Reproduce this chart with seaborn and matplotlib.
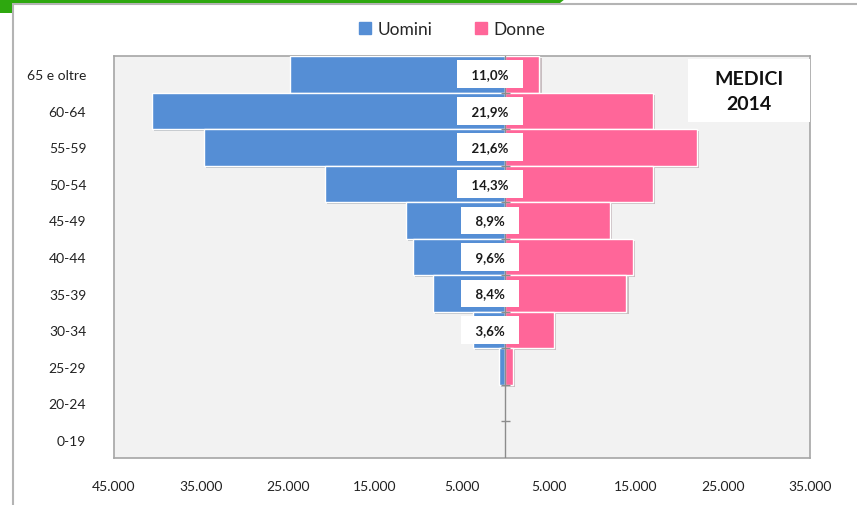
import numpy as np
import pandas as pd
import matplotlib
matplotlib.use("Agg")
import matplotlib.pyplot as plt
import matplotlib.patheffects as pe
from matplotlib.patches import Rectangle, Polygon
from matplotlib.lines import Line2D
import seaborn as sns

# data
age_groups = ["65 e oltre", "60-64", "55-59", "50-54", "45-49", "40-44",
              "35-39", "30-34", "25-29", "20-24", "0-19"]
uomini = [24800, 40600, 34700, 20800, 11400, 10600, 8300, 3700, 700, 0, 0]
donne = [3900, 17000, 22000, 16900, 12000, 14600, 13900, 5600, 900, 0, 0]
pct_labels = ["11,0%", "21,9%", "21,6%", "14,3%", "8,9%", "9,6%", "8,4%", "3,6%"]
x_ticks = list(range(-45000, 35001, 10000))

blue = "#558ED5"
pink = "#FF6699"

df = pd.DataFrame({"Età": age_groups,
                   "Uomini": [-v for v in uomini],
                   "Donne": donne})

sns.set_style("white")
plt.rcParams["font.family"] = ["Lato", "DejaVu Sans"]

fig = plt.figure(figsize=(8.57, 5.06), dpi=100)
ax = fig.add_axes([114 / 857, 47 / 506, 696 / 857, 402 / 506])
ax.set_facecolor("#F2F2F2")

shadow = [pe.SimplePatchShadow(offset=(1.5, -1.5), alpha=0.25), pe.Normal()]
sns.barplot(data=df, x="Uomini", y="Età", order=age_groups, color=blue,
            width=1.0, edgecolor="white", linewidth=1, saturation=1, ax=ax, zorder=3)
sns.barplot(data=df, x="Donne", y="Età", order=age_groups, color=pink,
            width=1.0, edgecolor="white", linewidth=1, saturation=1, ax=ax, zorder=3)
for p in ax.patches:
    if p.get_width() != 0:
        p.set_path_effects(shadow)
    else:
        p.set_visible(False)

# zero axis with boundary ticks
ax.axvline(0, color="#8C8C8C", lw=1, zorder=4)
bounds = np.arange(len(age_groups) - 1) + 0.5
ax.hlines(bounds, -550, 550, color="#8C8C8C", lw=1, zorder=4)

# percentage labels
for i, lab in enumerate(pct_labels):
    ax.text(-1800, i, "  " + lab + "  ", ha="center", va="center",
            fontsize=9.5, fontweight="bold", color="#1A1A1A", zorder=5,
            bbox=dict(boxstyle="square,pad=0.6", fc="white", ec="none"))

# title box
ax.add_patch(Rectangle((574 / 696, 336 / 402), 122 / 696, 63 / 402,
                       transform=ax.transAxes, fc="white", ec="none", zorder=5))
ax.text(635 / 696, 367 / 402, "MEDICI\n2014", transform=ax.transAxes,
        ha="center", va="center", fontsize=14, fontweight="bold",
        color="#111111", linespacing=1.6, zorder=6)

ax.set_xlim(-45000, 35000)
ax.set_ylim(len(age_groups) - 0.5, -0.5)
ax.set_xticks(x_ticks)
ax.set_xticklabels([f"{abs(v):,}".replace(",", ".") for v in x_ticks],
                   fontsize=10, color="#222222")
ax.tick_params(axis="x", length=4, width=1, color="#8C8C8C", direction="out", pad=12)
ax.tick_params(axis="y", length=0, labelsize=10, labelcolor="#222222", pad=20)
ax.set_xlabel("")
ax.set_ylabel("")
for s in ax.spines.values():
    s.set_visible(True)
    s.set_color("#A6A6A6")
    s.set_linewidth(1.2)

# legend
handles = [Line2D([], [], marker="s", ls="", color=blue, markersize=8, label="Uomini"),
           Line2D([], [], marker="s", ls="", color=pink, markersize=8, label="Donne")]
fig.legend(handles=handles, loc="center", bbox_to_anchor=(0.527, 1 - 30 / 506),
           ncol=2, frameon=False, fontsize=12.5, handletextpad=0.3,
           columnspacing=2.4, handlelength=0.8)

# outer chart frame and green header strip
fig.patches.append(Rectangle((13 / 857, -0.05), 1.0, 1 - 5 / 506 + 0.05,
                             transform=fig.transFigure, fc="none",
                             ec="#B4B4B4", lw=1.5, zorder=0))
fig.patches.append(Polygon([(0, 1), (565 / 857, 1), (560 / 857, 1 - 4 / 506),
                            (12 / 857, 1 - 4 / 506), (12 / 857, 1 - 14 / 506),
                            (0, 1 - 14 / 506)],
                           closed=True, transform=fig.transFigure,
                           fc="#2EA80F", ec="none", zorder=1))

fig.savefig("out.png", dpi=100)
